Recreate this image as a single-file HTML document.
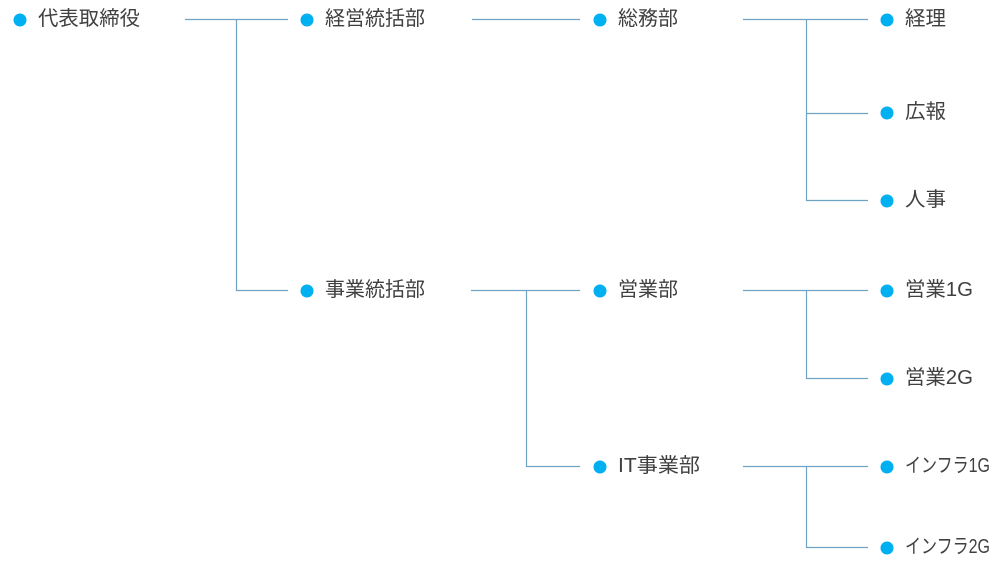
<!DOCTYPE html>
<html><head><meta charset="utf-8"><style>
html,body{margin:0;padding:0;background:#fff;}
svg text{font-family:"Liberation Sans","Noto Sans CJK JP",sans-serif;font-size:20px;fill:#404040;}
</style></head><body>
<svg width="1008" height="575" viewBox="0 0 1008 575" xmlns="http://www.w3.org/2000/svg">
<g stroke="#6fa3c4" stroke-width="1.2" fill="none">
<path d="M185 19.5H288M236.5 19.5V290.5H288"/>
<path d="M472 19.5H580"/>
<path d="M471 290.5H580M526.5 290.5V466.5H580"/>
<path d="M743 19.5H868M806.5 19.5V200.5H868M806.5 113.5H868"/>
<path d="M743 290.5H868M806.5 290.5V378.5H868"/>
<path d="M743 466.5H868M806.5 466.5V547.5H868"/>
</g>
<g fill="#00b0f0">
<circle cx="20" cy="20" r="6.5"/>
<circle cx="307" cy="20" r="6.5"/>
<circle cx="307" cy="291" r="6.5"/>
<circle cx="600" cy="20" r="6.5"/>
<circle cx="600" cy="291" r="6.5"/>
<circle cx="600" cy="467" r="6.5"/>
<circle cx="887" cy="20" r="6.5"/>
<circle cx="887" cy="113" r="6.5"/>
<circle cx="887" cy="201" r="6.5"/>
<circle cx="887" cy="291" r="6.5"/>
<circle cx="887" cy="379" r="6.5"/>
<circle cx="887" cy="467" r="6.5"/>
<circle cx="887" cy="548" r="6.5"/>
</g>
<g dominant-baseline="central">
<text x="38" y="19" textLength="102" lengthAdjust="spacingAndGlyphs">代表取締役</text>
<text x="325" y="19" textLength="100" lengthAdjust="spacingAndGlyphs">経営統括部</text>
<text x="325" y="290" textLength="100" lengthAdjust="spacingAndGlyphs">事業統括部</text>
<text x="618" y="19" textLength="60" lengthAdjust="spacingAndGlyphs">総務部</text>
<text x="618" y="290" textLength="60" lengthAdjust="spacingAndGlyphs">営業部</text>
<text x="618" y="466" textLength="82" lengthAdjust="spacingAndGlyphs">IT事業部</text>
<text x="905" y="19" textLength="41" lengthAdjust="spacingAndGlyphs">経理</text>
<text x="905" y="112" textLength="41" lengthAdjust="spacingAndGlyphs">広報</text>
<text x="905" y="200" textLength="41" lengthAdjust="spacingAndGlyphs">人事</text>
<text x="905" y="290" textLength="68" lengthAdjust="spacingAndGlyphs">営業1G</text>
<text x="905" y="378" textLength="68" lengthAdjust="spacingAndGlyphs">営業2G</text>
<text x="905" y="466" textLength="85" lengthAdjust="spacingAndGlyphs">インフラ1G</text>
<text x="905" y="547" textLength="85" lengthAdjust="spacingAndGlyphs">インフラ2G</text>
</g>
</svg>
</body></html>
